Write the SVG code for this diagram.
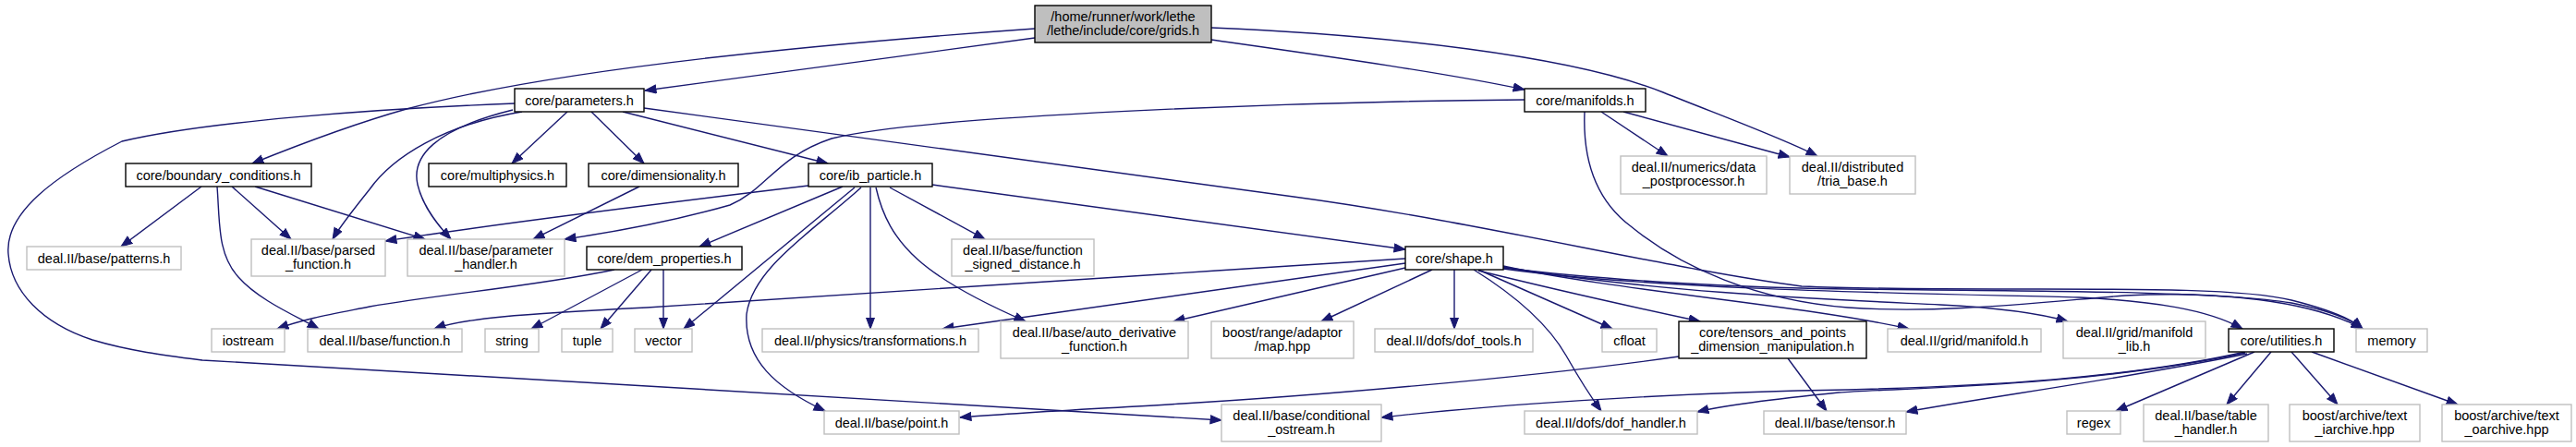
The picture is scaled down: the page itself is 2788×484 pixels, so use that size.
<svg xmlns="http://www.w3.org/2000/svg" width="2788" height="484" viewBox="0 0 2788 484">
<style>
text{font-family:"Liberation Sans",Arial,sans-serif;font-size:14.5px;fill:#000;text-anchor:middle}
.n rect{fill:#fff;stroke:#000;stroke-width:1.4}
.x rect{fill:#fff;stroke:#bfbfbf;stroke-width:1.4}
.r rect{fill:#bfbfbf;stroke:#000;stroke-width:1.4}
#edges path{fill:none;stroke:#191970;stroke-width:1.4;marker-end:url(#a)}
</style>
<defs>
<marker id="a" markerWidth="14" markerHeight="11" refX="12.5" refY="5" orient="auto" markerUnits="userSpaceOnUse"><path d="M0.5,0.5 L12.5,5 L0.5,9.5 z" fill="#191970" stroke="#191970" stroke-width="1"/></marker>
</defs>
<rect width="2788" height="484" fill="#fff"/>
<g id="edges">
<path d="M1120,41 C980,60 820,82 698,98"/>
<path d="M1120,31 C880,48 600,75 440,118 C380,135 320,158 273,177"/>
<path d="M1311,43 C1430,60 1560,78 1650,97"/>
<path d="M1311,30 C1500,38 1700,60 1800,100 C1870,128 1930,150 1967,169"/>
<path d="M557,112 C400,118 220,132 132,153 C60,190 5,230 9,275 C12,315 45,350 100,368 C140,380 180,385 219,390 L700,418 C900,430 1100,442 1322,455"/>
<path d="M565,121 C480,135 425,170 400,205 C380,230 368,245 360,259"/>
<path d="M555,119 C470,140 445,170 452,200 C458,225 475,245 488,259"/>
<path d="M614,121 L554,177"/>
<path d="M640,121 L697,177"/>
<path d="M674,121 L896,177"/>
<path d="M697,117 L1400,213 C1600,240 1800,290 1950,310 C2150,318 2400,305 2480,325 C2520,335 2545,345 2557,356"/>
<path d="M1650,108 C1400,110 1000,125 900,150 C840,170 830,205 790,222 C720,242 660,252 611,259"/>
<path d="M1733,121 L1805,169"/>
<path d="M1757,121 L1937,170"/>
<path d="M1715,121 C1713,170 1725,215 1765,245 C1820,290 1900,325 2000,333 C2100,340 2200,328 2300,320 C2400,315 2500,325 2557,356"/>
<path d="M218,202 L131,267"/>
<path d="M235,202 C238,240 235,275 258,300 C280,325 320,342 345,356"/>
<path d="M251,202 L315,259"/>
<path d="M276,202 L460,259"/>
<path d="M692,202 L577,259"/>
<path d="M875,201 C700,222 520,245 417,261"/>
<path d="M912,202 L757,267"/>
<path d="M925,203 L740,356"/>
<path d="M932,203 C880,250 815,290 808,340 C805,390 840,420 893,445"/>
<path d="M942,203 L942,356"/>
<path d="M948,203 C962,265 1000,300 1110,348"/>
<path d="M963,203 L1066,259"/>
<path d="M1009,200 L1521,270"/>
<path d="M665,292 C580,310 480,318 400,332 C360,340 330,345 300,356"/>
<path d="M695,292 L575,356"/>
<path d="M705,292 L650,356"/>
<path d="M718,292 L718,356"/>
<path d="M1521,280 C1200,300 800,328 700,333 C560,340 500,345 470,356"/>
<path d="M1521,285 L1020,356"/>
<path d="M1521,290 L1270,348"/>
<path d="M1550,292 L1430,348"/>
<path d="M1574,292 L1574,356"/>
<path d="M1600,292 L1745,356"/>
<path d="M1595,292 C1640,320 1675,350 1695,385 C1712,415 1722,430 1733,445"/>
<path d="M1600,293 C1700,318 1780,335 1840,348"/>
<path d="M1627,288 C1750,315 1950,330 2066,356"/>
<path d="M1627,289 C1800,318 2000,325 2100,330 C2160,333 2210,340 2238,348"/>
<path d="M1627,291 C1800,315 2100,318 2250,322 C2330,326 2390,335 2427,356"/>
<path d="M1627,290 C1750,305 1900,312 2000,313 C2200,315 2400,315 2480,328 C2520,336 2545,346 2557,356"/>
<path d="M1817,386 C1650,410 1400,430 1280,437 C1180,443 1100,447 1039,452"/>
<path d="M1935,388 L1977,445"/>
<path d="M2430,381 C2300,410 2150,418 2000,422 C1800,425 1600,440 1495,452"/>
<path d="M2430,382 C2250,420 2050,420 1990,425 C1920,432 1870,438 1837,446"/>
<path d="M2432,383 C2300,410 2150,430 2063,446"/>
<path d="M2440,381 L2290,445"/>
<path d="M2458,381 L2410,438"/>
<path d="M2480,381 L2530,438"/>
<path d="M2502,381 L2660,438"/>
</g>
<g id="grids" class="r"><rect x="1120" y="6" width="191" height="40"/><text x="1215.5" y="23">/home/runner/work/lethe</text><text x="1215.5" y="38">/lethe/include/core/grids.h</text></g>
<g id="parameters" class="n"><rect x="557" y="96" width="140" height="25"/><text x="627" y="113.5">core/parameters.h</text></g>
<g id="manifolds" class="n"><rect x="1650" y="96" width="131" height="25"/><text x="1715.5" y="113.5">core/manifolds.h</text></g>
<g id="boundary_conditions" class="n"><rect x="136" y="177" width="201" height="25"/><text x="236.5" y="194.5">core/boundary_conditions.h</text></g>
<g id="multiphysics" class="n"><rect x="464" y="177" width="149" height="25"/><text x="538.5" y="194.5">core/multiphysics.h</text></g>
<g id="dimensionality" class="n"><rect x="637" y="177" width="162" height="25"/><text x="718" y="194.5">core/dimensionality.h</text></g>
<g id="ib_particle" class="n"><rect x="875" y="177" width="134" height="25"/><text x="942" y="194.5">core/ib_particle.h</text></g>
<g id="data_postprocessor" class="x"><rect x="1754" y="169" width="158" height="41"/><text x="1833" y="186">deal.II/numerics/data</text><text x="1833" y="201">_postprocessor.h</text></g>
<g id="tria_base" class="x"><rect x="1937" y="169" width="136" height="41"/><text x="2005" y="186">deal.II/distributed</text><text x="2005" y="201">/tria_base.h</text></g>
<g id="patterns" class="x"><rect x="29" y="267" width="167" height="25"/><text x="112.5" y="284.5">deal.II/base/patterns.h</text></g>
<g id="parsed_function" class="x"><rect x="272" y="259" width="145" height="40"/><text x="344.5" y="276">deal.II/base/parsed</text><text x="344.5" y="291">_function.h</text></g>
<g id="parameter_handler" class="x"><rect x="441" y="259" width="170" height="40"/><text x="526" y="276">deal.II/base/parameter</text><text x="526" y="291">_handler.h</text></g>
<g id="dem_properties" class="n"><rect x="635" y="267" width="168" height="25"/><text x="719" y="284.5">core/dem_properties.h</text></g>
<g id="function_signed_distance" class="x"><rect x="1030" y="259" width="154" height="40"/><text x="1107" y="276">deal.II/base/function</text><text x="1107" y="291">_signed_distance.h</text></g>
<g id="shape" class="n"><rect x="1521" y="267" width="106" height="25"/><text x="1574" y="284.5">core/shape.h</text></g>
<g id="iostream" class="x"><rect x="229" y="356" width="79" height="25"/><text x="268.5" y="373.5">iostream</text></g>
<g id="function" class="x"><rect x="333" y="356" width="167" height="25"/><text x="416.5" y="373.5">deal.II/base/function.h</text></g>
<g id="string" class="x"><rect x="525" y="356" width="58" height="25"/><text x="554" y="373.5">string</text></g>
<g id="tuple" class="x"><rect x="608" y="356" width="55" height="25"/><text x="635.5" y="373.5">tuple</text></g>
<g id="vector" class="x"><rect x="687" y="356" width="62" height="25"/><text x="718" y="373.5">vector</text></g>
<g id="transformations" class="x"><rect x="825" y="356" width="234" height="25"/><text x="942" y="373.5">deal.II/physics/transformations.h</text></g>
<g id="auto_derivative_function" class="x"><rect x="1083" y="348" width="203" height="40"/><text x="1184.5" y="365">deal.II/base/auto_derivative</text><text x="1184.5" y="380">_function.h</text></g>
<g id="map_hpp" class="x"><rect x="1311" y="348" width="154" height="40"/><text x="1388" y="365">boost/range/adaptor</text><text x="1388" y="380">/map.hpp</text></g>
<g id="dof_tools" class="x"><rect x="1488" y="356" width="171" height="25"/><text x="1573.5" y="373.5">deal.II/dofs/dof_tools.h</text></g>
<g id="cfloat" class="x"><rect x="1734" y="356" width="59" height="25"/><text x="1763.5" y="373.5">cfloat</text></g>
<g id="tensors_and_points" class="n"><rect x="1817" y="348" width="203" height="40"/><text x="1918.5" y="365">core/tensors_and_points</text><text x="1918.5" y="380">_dimension_manipulation.h</text></g>
<g id="grid_manifold" class="x"><rect x="2043" y="356" width="166" height="25"/><text x="2126" y="373.5">deal.II/grid/manifold.h</text></g>
<g id="manifold_lib" class="x"><rect x="2233" y="348" width="154" height="40"/><text x="2310" y="365">deal.II/grid/manifold</text><text x="2310" y="380">_lib.h</text></g>
<g id="utilities" class="n"><rect x="2412" y="356" width="114" height="25"/><text x="2469" y="373.5">core/utilities.h</text></g>
<g id="memory" class="x"><rect x="2550" y="356" width="77" height="25"/><text x="2588.5" y="373.5">memory</text></g>
<g id="point" class="x"><rect x="892" y="445" width="146" height="25"/><text x="965" y="462.5">deal.II/base/point.h</text></g>
<g id="conditional_ostream" class="x"><rect x="1322" y="438" width="173" height="40"/><text x="1408.5" y="455">deal.II/base/conditional</text><text x="1408.5" y="470">_ostream.h</text></g>
<g id="dof_handler" class="x"><rect x="1650" y="445" width="187" height="25"/><text x="1743.5" y="462.5">deal.II/dofs/dof_handler.h</text></g>
<g id="tensor" class="x"><rect x="1909" y="445" width="154" height="25"/><text x="1986" y="462.5">deal.II/base/tensor.h</text></g>
<g id="regex" class="x"><rect x="2237" y="445" width="58" height="25"/><text x="2266" y="462.5">regex</text></g>
<g id="table_handler" class="x"><rect x="2320" y="438" width="135" height="40"/><text x="2387.5" y="455">deal.II/base/table</text><text x="2387.5" y="470">_handler.h</text></g>
<g id="text_iarchive" class="x"><rect x="2478" y="438" width="141" height="40"/><text x="2548.5" y="455">boost/archive/text</text><text x="2548.5" y="470">_iarchive.hpp</text></g>
<g id="text_oarchive" class="x"><rect x="2643" y="438" width="140" height="40"/><text x="2713" y="455">boost/archive/text</text><text x="2713" y="470">_oarchive.hpp</text></g>
</svg>
